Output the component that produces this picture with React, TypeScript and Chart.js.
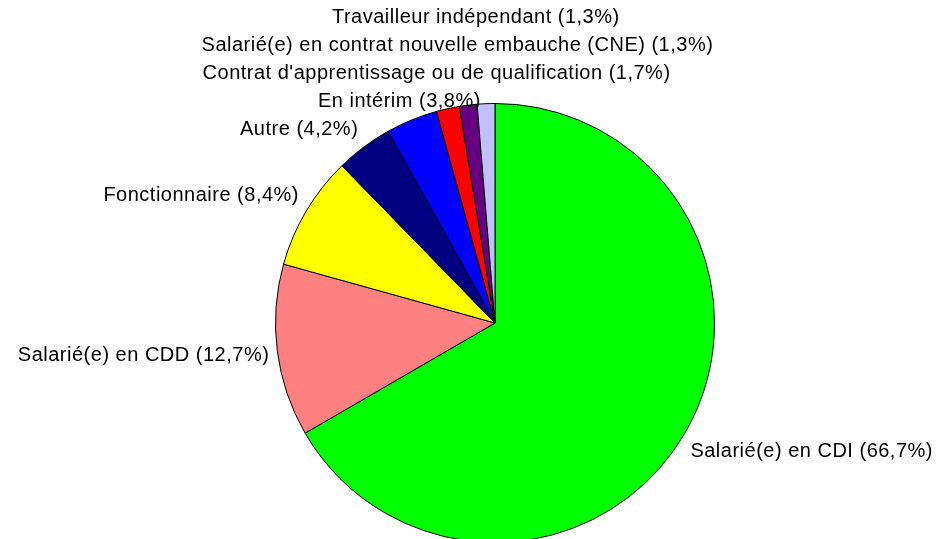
import React, { useEffect, useRef } from "react";
import { Chart, registerables } from "chart.js";

Chart.register(...registerables);

const categories: string[] = [
  "Salarié(e) en CDI",
  "Salarié(e) en CDD",
  "Fonctionnaire",
  "Autre",
  "En intérim",
  "Contrat d'apprentissage ou de qualification",
  "Salarié(e) en contrat nouvelle embauche (CNE)",
  "Travailleur indépendant",
];

const shares: number[] = [66.7, 12.7, 8.4, 4.2, 3.8, 1.7, 1.3, 1.3];

const sliceColors: string[] = [
  "#00FF00",
  "#FF8080",
  "#FFFF00",
  "#000080",
  "#0000FF",
  "#FF0000",
  "#660080",
  "#C0C0FF",
];

const W = 939;
const H = 580;

const fmt = (v: number) => v.toFixed(1).replace(".", ",");

const labelPlugin = {
  id: "outsideLabels",
  afterDatasetsDraw(chart: any) {
    const ctx: CanvasRenderingContext2D = chart.ctx;
    const meta = chart.getDatasetMeta(0);
    ctx.save();
    ctx.font = '20px "Liberation Sans", Arial, sans-serif';
    (ctx as any).letterSpacing = "0.5px";
    ctx.fillStyle = "#000";
    ctx.textBaseline = "middle";
    const placed: { x1: number; x2: number; y: number }[] = [];
    meta.data.forEach((arc: any, i: number) => {
      const { x, y, startAngle, endAngle, outerRadius } = arc.getProps(
        ["x", "y", "startAngle", "endAngle", "outerRadius"],
        true
      );
      const mid = (startAngle + endAngle) / 2;
      const c = Math.cos(mid);
      const s = Math.sin(mid);
      const r = outerRadius + 6;
      const ax = x + c * r;
      const ay = y + s * r;
      const text = `${categories[i]} (${fmt(shares[i])}%)`;
      const w = ctx.measureText(text).width;
      let x1: number;
      if (c > 0.5) x1 = ax;
      else if (c < -0.5) x1 = ax - w - 2;
      else x1 = ax - 10 - w / 2;
      const x2 = x1 + w;
      let yc = ay + Math.max(-13, Math.min(16, s * 32));
      let moved = true;
      let guard = 0;
      while (moved && guard < 50) {
        moved = false;
        guard++;
        for (const p of placed) {
          if (x1 < p.x2 && x2 > p.x1 && Math.abs(yc - p.y) < 24) {
            yc = s < 0 ? p.y - 28 : p.y + 28;
            moved = true;
          }
        }
      }
      placed.push({ x1, x2, y: yc });
      ctx.textAlign = "left";
      ctx.fillText(text, x1, yc);
    });
    ctx.restore();
  },
};

export default function App() {
  const ref = useRef<HTMLCanvasElement | null>(null);
  useEffect(() => {
    if (!ref.current) return;
    const chart = new Chart(ref.current, {
      type: "pie",
      data: {
        labels: categories,
        datasets: [
          {
            data: shares,
            backgroundColor: sliceColors,
            borderColor: "#000000",
            borderWidth: 1,
          },
        ],
      },
      options: {
        responsive: false,
        animation: false,
        devicePixelRatio: 1,
        layout: {
          padding: { left: 275, right: W - 715, top: 103, bottom: H - 543 },
        },
        plugins: {
          legend: { display: false },
          tooltip: { enabled: false },
        },
      },
      plugins: [labelPlugin],
    });
    return () => chart.destroy();
  }, []);
  return (
    <div
      style={{
        position: "fixed",
        left: 0,
        top: 0,
        width: "100vw",
        height: "100vh",
        overflow: "hidden",
        background: "#fff",
      }}
    >
      <canvas
        ref={ref}
        width={W}
        height={H}
        style={{ width: W, height: H, display: "block" }}
      />
    </div>
  );
}
